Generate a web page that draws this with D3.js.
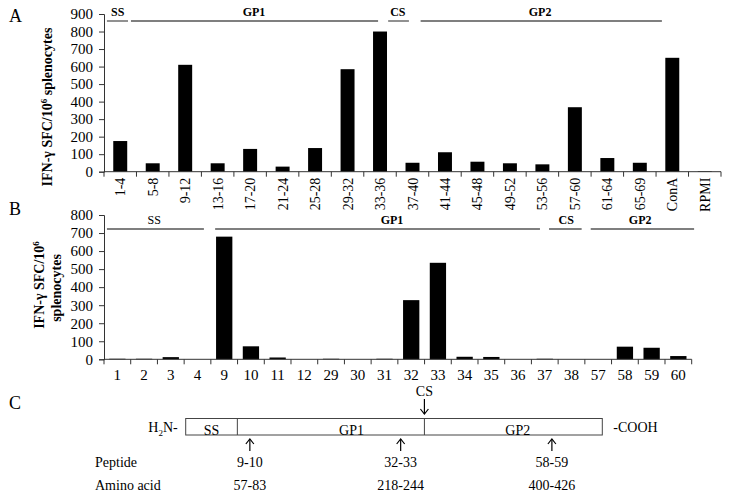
<!DOCTYPE html>
<html><head><meta charset="utf-8">
<script src="https://cdn.jsdelivr.net/npm/d3@7"></script>
<style>
body{margin:0;background:#fff;}
svg text{font-family:"Liberation Serif","Times New Roman",serif;fill:#000;}
</style></head>
<body><svg id="c" width="729" height="497"></svg>
<script>
// ---- Panel A data ----
const catsA = ["1-4","5-8","9-12","13-16","17-20","21-24","25-28","29-32","33-36","37-40","41-44","45-48","49-52","53-56","57-60","61-64","65-69","ConA","RPMI"];
const valsA = [175,48,610,48,130,29,135,585,800,51,111,57,48,42,368,78,51,650,3];
const ticksA = [0,100,200,300,400,500,600,700,800,900];
const groupsA = [
  {label:"SS", from:0.09, to:0.74, at:0.42, bold:true},
  {label:"GP1", from:0.83, to:8.44, at:4.62, bold:true},
  {label:"CS", from:8.75, to:9.39, at:9.05, bold:true},
  {label:"GP2", from:9.75, to:17.18, at:13.43, bold:true}
];
// ---- Panel B data ----
const catsB = ["1","2","3","4","9","10","11","12","29","30","31","32","33","34","35","36","37","38","57","58","59","60"];
const valsB = [3,3,12,0,680,72,10,0,3,0,3,328,535,14,13,0,3,0,0,70,64,18];
const ticksB = [0,100,200,300,400,500,600,700,800];
const groupsB = [
  {label:"SS", from:0.11, to:3.74, at:1.88, bold:false},
  {label:"GP1", from:4.16, to:16.32, at:10.78, bold:true},
  {label:"CS", from:16.66, to:17.88, at:17.3, bold:true},
  {label:"GP2", from:18.22, to:22.09, at:20.07, bold:true}
];
// ---- Panel C data (relative positions along the protein box) ----
const domainsC = [{name:"SS", from:0, to:0.124, label:0.062},{name:"GP1", from:0.124, to:0.573, label:0.398},{name:"GP2", from:0.573, to:1, label:0.797}];
const epitopesC = [{peptide:"9-10", aa:"57-83", pos:0.154},{peptide:"32-33", aa:"218-244", pos:0.516},{peptide:"58-59", aa:"400-426", pos:0.879}];
const cleavageC = {label:"CS", pos:0.573};

const svg = d3.select("#c");

function panel(cfg){
  const g = svg.append("g");
  const x = d3.scaleBand().domain(cfg.cats).range(cfg.xr).paddingInner(cfg.pad).paddingOuter(cfg.pad/2);
  const y = d3.scaleLinear().domain([0, cfg.max]).range(cfg.yr);
  const u = d3.scaleLinear().domain([0, cfg.cats.length]).range(cfg.xr);
  // y axis
  const ya = g.append("g").attr("transform",`translate(${cfg.xr[0]},0)`)
    .call(d3.axisLeft(y).tickValues(cfg.ticks).tickSize(5).tickPadding(6).tickSizeOuter(5));
  ya.selectAll("text").style("font-size","15px").style("font-family","Liberation Serif");
  ya.selectAll("path,line").attr("stroke","#333");
  // bars
  g.selectAll("rect.bar").data(cfg.vals).join("rect")
    .attr("x",(d,i)=>x(cfg.cats[i])).attr("width",x.bandwidth())
    .attr("y",d=>y(d)).attr("height",d=>y(0)-y(d)).attr("fill","#000");
  // x axis line and boundary ticks
  g.append("line").attr("x1",cfg.xr[0]).attr("x2",cfg.xr[1]).attr("y1",y(0)).attr("y2",y(0)).attr("stroke","#333");
  g.selectAll("line.bt").data(d3.range(cfg.cats.length+1)).join("line")
    .attr("x1",i=>u(i)).attr("x2",i=>u(i)).attr("y1",y(0)).attr("y2",y(0)+5).attr("stroke","#333");
  // x labels
  const cx = c => x(c)+x.bandwidth()/2;
  if(cfg.rotate){
    g.selectAll("text.xl").data(cfg.cats).join("text")
      .attr("transform",c=>`translate(${cx(c)+5},${y(0)+6}) rotate(-90)`)
      .attr("text-anchor","end").style("font-size","14px").text(c=>c);
  } else {
    g.selectAll("text.xl").data(cfg.cats).join("text")
      .attr("x",cx).attr("y",y(0)+21).attr("text-anchor","middle").style("font-size","15px").text(c=>c);
  }
  // group lines
  g.selectAll("line.gl").data(cfg.groups).join("line")
    .attr("x1",d=>u(d.from)).attr("x2",d=>u(d.to)).attr("y1",cfg.gy).attr("y2",cfg.gy)
    .attr("stroke","#555").attr("stroke-width",1.3);
  g.selectAll("text.gt").data(cfg.groups).join("text")
    .attr("x",d=>u(d.at)).attr("y",cfg.gy-5).attr("text-anchor","middle")
    .style("font-size","12px").style("font-weight",d=>d.bold?"bold":"normal").text(d=>d.label);
  return g;
}

panel({cats:catsA, vals:valsA, ticks:ticksA, max:900, xr:[104,721], yr:[171.7,14], pad:0.57, rotate:true, groups:groupsA, gy:21});
panel({cats:catsB, vals:valsB, ticks:ticksB, max:800, xr:[104,691.7], yr:[359.3,215], pad:0.39, rotate:false, groups:groupsB, gy:229});

// axis titles
svg.append("text").attr("transform","translate(52,107) rotate(-90)").attr("text-anchor","middle")
  .style("font-size","14px").style("font-weight","bold")
  .html('IFN-γ SFC/10<tspan dy="-5" font-size="9px">6</tspan><tspan dy="5"> splenocytes</tspan>');
svg.append("text").attr("transform","translate(44,285) rotate(-90)").attr("text-anchor","middle")
  .style("font-size","14px").style("font-weight","bold")
  .html('IFN-γ SFC/10<tspan dy="-5" font-size="9px">6</tspan>');
svg.append("text").attr("transform","translate(61,288) rotate(-90)").attr("text-anchor","middle")
  .style("font-size","14px").style("font-weight","bold").text("splenocytes");

// panel letters
[["A",22],["B",215],["C",409]].forEach(([t,yy])=>{
  svg.append("text").attr("x",9).attr("y",yy).style("font-size","18px").text(t);
});

// ---- Panel C diagram ----
const px = d3.scaleLinear().domain([0,1]).range([185.7,602.3]);
const boxTop = 418.5, boxBot = 435;
const gc = svg.append("g");
gc.append("rect").attr("x",px(0)).attr("y",boxTop).attr("width",px(1)-px(0)).attr("height",boxBot-boxTop)
  .attr("fill","none").attr("stroke","#444").attr("stroke-width",1);
gc.selectAll("line.dv").data(domainsC.slice(1)).join("line")
  .attr("x1",d=>px(d.from)).attr("x2",d=>px(d.from)).attr("y1",boxTop).attr("y2",boxBot).attr("stroke","#444");
gc.selectAll("text.dn").data(domainsC).join("text")
  .attr("x",d=>px(d.label)).attr("y",boxBot-0.5).attr("text-anchor","middle").style("font-size","14px").text(d=>d.name);
gc.append("text").attr("x",px(0)-8).attr("y",432).attr("text-anchor","end").style("font-size","14px")
  .html('H<tspan dy="4" font-size="9px">2</tspan><tspan dy="-4">N-</tspan>');
gc.append("text").attr("x",px(1)+11).attr("y",432).style("font-size","14px").text("-COOH");

function arrow(xp, yTip, yTail){
  const dir = yTail>yTip?1:-1;
  gc.append("line").attr("x1",xp).attr("x2",xp).attr("y1",yTip).attr("y2",yTail).attr("stroke","#000").attr("stroke-width",1.2);
  gc.append("path").attr("d",`M${xp-4},${yTip+5*dir} L${xp},${yTip} L${xp+4},${yTip+5*dir}`)
    .attr("fill","none").attr("stroke","#000").attr("stroke-width",1.2);
}
epitopesC.forEach(e=>{
  arrow(px(e.pos), 439, 451);
  gc.append("text").attr("x",px(e.pos)).attr("y",467).attr("text-anchor","middle").style("font-size","14px").text(e.peptide);
  gc.append("text").attr("x",px(e.pos)).attr("y",490).attr("text-anchor","middle").style("font-size","14px").text(e.aa);
});
arrow(px(cleavageC.pos), 414, 399);
gc.append("text").attr("x",px(cleavageC.pos)).attr("y",396).attr("text-anchor","middle").style("font-size","14px").text(cleavageC.label);
gc.append("text").attr("x",95).attr("y",467).style("font-size","14px").text("Peptide");
gc.append("text").attr("x",95).attr("y",490).style("font-size","14px").text("Amino acid");
</script></body></html>
